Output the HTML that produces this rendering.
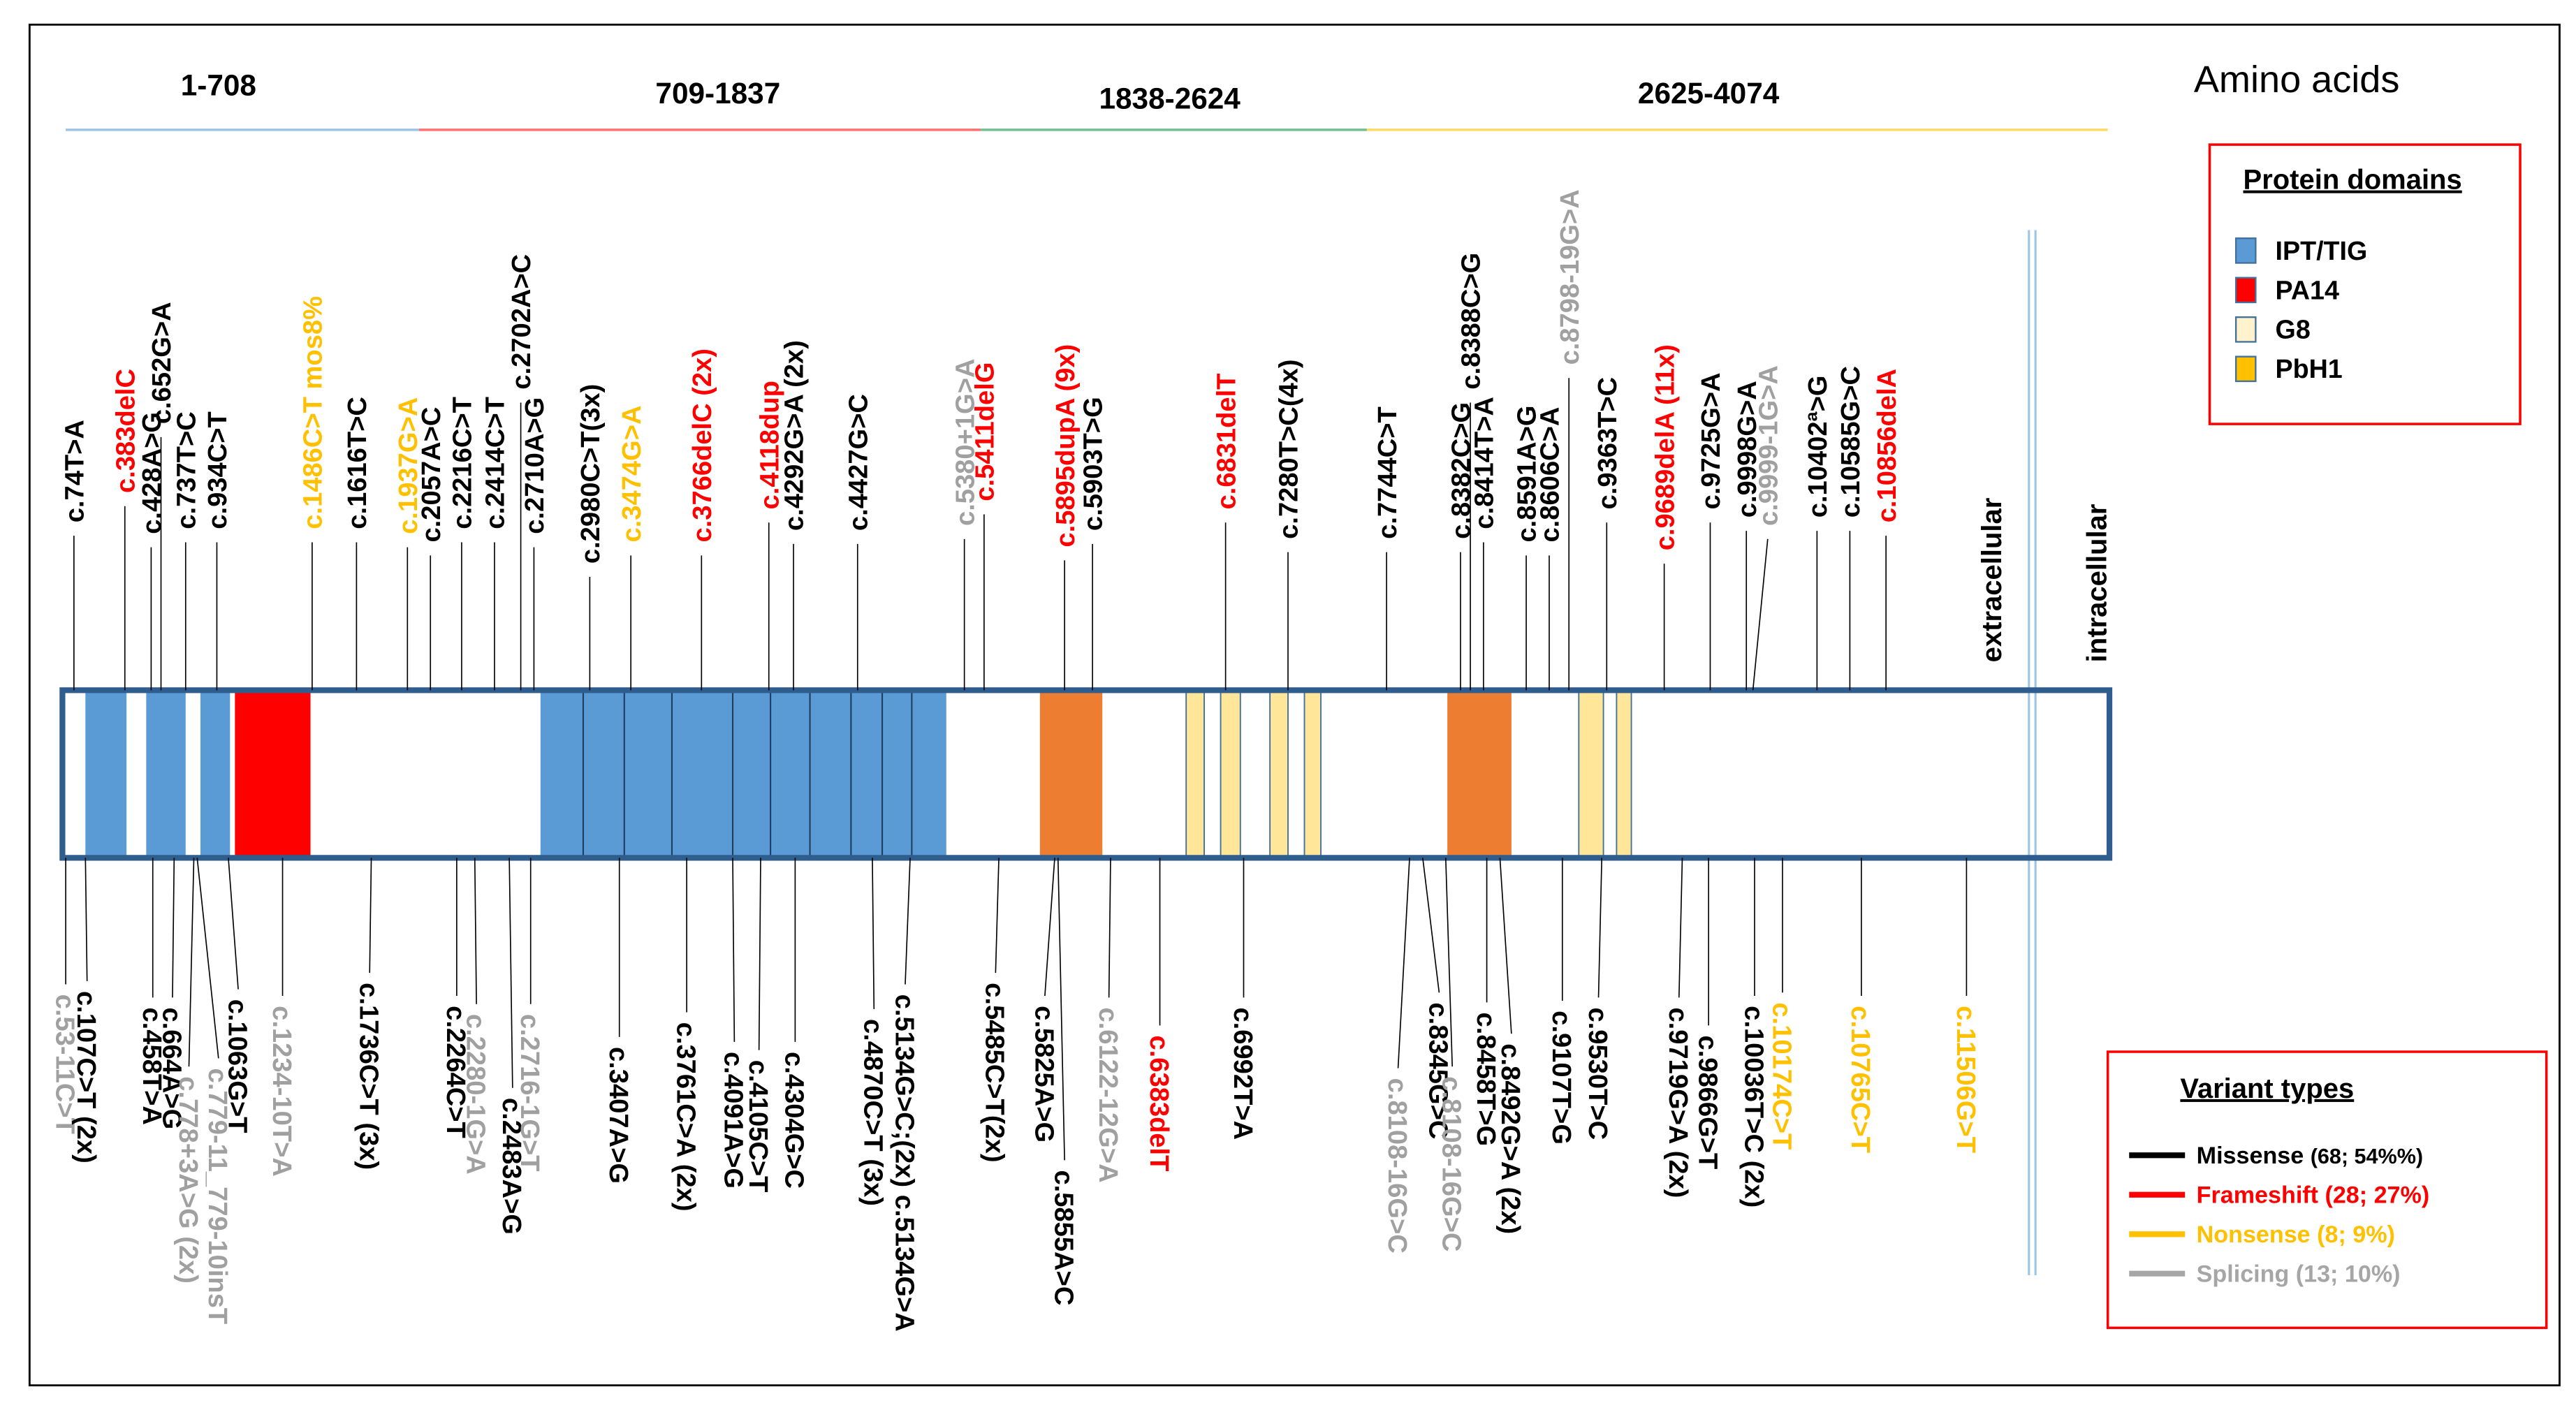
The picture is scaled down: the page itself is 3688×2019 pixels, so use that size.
<!DOCTYPE html>
<html><head><meta charset="utf-8"><style>
html,body{margin:0;padding:0;background:#fff}
svg{display:block}
text{font-family:"Liberation Sans",sans-serif}
</style></head><body>
<svg id="fig" width="3688" height="2019" viewBox="0 0 1568 858" preserveAspectRatio="none" xmlns="http://www.w3.org/2000/svg">
<rect x="0" y="0" width="1568" height="858" fill="#fff"/>
<rect x="18" y="15" width="1540" height="828" fill="none" stroke="#000" stroke-width="1.2"/>
<g font-weight="bold" font-size="18" text-anchor="middle">
<text x="133" y="58">1-708</text>
<text x="437" y="63">709-1837</text>
<text x="712" y="66">1838-2624</text>
<text x="1040" y="63">2625-4074</text>
<line x1="40" y1="79" x2="255" y2="79" stroke="#9dc3e6" stroke-width="1.5"/>
<line x1="255" y1="79" x2="597" y2="79" stroke="#ff7070" stroke-width="1.5"/>
<line x1="597" y1="79" x2="832" y2="79" stroke="#70c090" stroke-width="1.5"/>
<line x1="832" y1="79" x2="1283" y2="79" stroke="#ffd966" stroke-width="1.5"/>
</g>
<text x="1398" y="56" font-size="23" text-anchor="middle">Amino acids</text>
<g>
<rect x="1345" y="88" width="189" height="170" fill="none" stroke="#ff0000" stroke-width="1.5"/>
<text x="1432" y="115" font-size="17" font-weight="bold" text-anchor="middle" text-decoration="underline">Protein domains</text>
<rect x="1361" y="145" width="12" height="15" fill="#5b9bd5" stroke="#41719c"/><text x="1385" y="158" font-size="16" font-weight="bold">IPT/TIG</text>
<rect x="1361" y="169" width="12" height="15" fill="#ff0000" stroke="#41719c"/><text x="1385" y="182" font-size="16" font-weight="bold">PA14</text>
<rect x="1361" y="193" width="12" height="15" fill="#fff2cc" stroke="#41719c"/><text x="1385" y="206" font-size="16" font-weight="bold">G8</text>
<rect x="1361" y="217" width="12" height="15" fill="#ffc000" stroke="#41719c"/><text x="1385" y="230" font-size="16" font-weight="bold">PbH1</text>
</g>
<g>
<rect x="1283" y="640" width="267" height="168" fill="none" stroke="#ff0000" stroke-width="1.5"/>
<text x="1380" y="668" font-size="17" font-weight="bold" text-anchor="middle" text-decoration="underline">Variant types</text>
<line x1="1296" y1="703" x2="1330" y2="703" stroke="#000" stroke-width="3.5"/><text x="1337" y="708" font-size="14.5" font-weight="bold">Missense <tspan font-size="13">(68; 54%%)</tspan></text>
<line x1="1296" y1="727" x2="1330" y2="727" stroke="#ff0000" stroke-width="3.5"/><text x="1337" y="732" font-size="14.5" font-weight="bold" fill="#ff0000">Frameshift (28; 27%)</text>
<line x1="1296" y1="751" x2="1330" y2="751" stroke="#ffc000" stroke-width="3.5"/><text x="1337" y="756" font-size="14.5" font-weight="bold" fill="#ffc000">Nonsense (8; 9%)</text>
<line x1="1296" y1="775" x2="1330" y2="775" stroke="#a6a6a6" stroke-width="3.5"/><text x="1337" y="780" font-size="14.5" font-weight="bold" fill="#a6a6a6">Splicing (13; 10%)</text>
</g>
<line x1="1235" y1="140" x2="1235" y2="776" stroke="#9dc3e6" stroke-width="1.3"/>
<line x1="1239" y1="140" x2="1239" y2="776" stroke="#9dc3e6" stroke-width="1.3"/>
<text transform="translate(1218,403) rotate(-90)" font-size="17" font-weight="bold">extracellular</text>
<text transform="translate(1282,403) rotate(-90)" font-size="17" font-weight="bold">intracellular</text>
<g id="bar"></g>
<g id="topLabels"></g>
<g id="botLabels"></g>
</svg>
<script>
const COL = {k:"#000000", r:"#ff0000", y:"#ffc000", g:"#a0a0a0"};
// domains: start, end, type
const domStart = [52,89,122,143,329,633,722,743,773,794,881,961,984];
const domEnd   = [77,113,140,189,576,671,733,755,784,804,920,976,993];
const domType  = ["b","b","b","r","b","o","l","l","l","l","o","l","l"];
const dividers = [355,380,409,446,469,493,518,537,555];
// top labels
const topX    = [45,76,92,98,113,132,190,217,248,262,281,301,317,325,359,384,427,468,483,522,587,599,648,665,746,784,844,889,895,903,929,943,955,978,1013,1041,1063,1076,1106,1126,1148];
const topTextBottom = [318,300,325,258,322,322,322,322,325,330,322,322,237,325,343,330,330,310,323,323,320,305,333,323,310,328,328,328,237,322,330,330,222,310,335,310,315,320,315,315,318];
const topColor = ["k","r","k","k","k","k","y","k","y","k","k","k","k","k","k","y","r","r","k","k","g","r","r","k","r","k","k","k","k","k","k","k","g","k","r","k","k","g","k","k","r"];
const topText = ["c.74T>A","c.383delC","c.428A>G","c.652G>A","c.737T>C","c.934C>T","c.1486C>T mos8%","c.1616T>C","c.1937G>A","c.2057A>C","c.2216C>T","c.2414C>T","c.2702A>C","c.2710A>G","c.2980C>T(3x)","c.3474G>A","c.3766delC (2x)","c.4118dup","c.4292G>A (2x)","c.4427G>C","c.5380+1G>A","c.5411delG","c.5895dupA (9x)","c.5903T>G","c.6831delT","c.7280T>C(4x)","c.7744C>T","c.8382C>G","c.8388C>G","c.8414T>A","c.8591A>G","c.8606C>A","c.8798-19G>A","c.9363T>C","c.9689delA (11x)","c.9725G>A","c.9998G>A","c.9999-1G>A","c.10402ª>G","c.10585G>C","c.10856delA"];
// bottom labels
const botLineX = [40,52,93,106,118,120,139,172,226,278,289,310,323,377,418,446,463,484,531,554,608,642,644,676,706,757,858,866,880,905,913,951,975,1024,1040,1068,1085,1133,1197];
const botX     = [40,53,93,105,115,133,145,172,225,278,290,312,323,377,418,447,462,484,532,551,606,636,648,675,706,757,851,876,884,905,920,951,973,1022,1040,1068,1085,1133,1197];
const botTop   = [605,603,613,613,655,650,608,612,598,612,617,668,617,637,622,640,645,640,620,605,598,612,712,613,630,613,656,610,655,616,635,615,613,613,630,612,610,612,612];
const botColor = ["g","k","k","k","g","g","k","g","k","k","g","k","g","k","k","k","k","k","k","k","k","k","k","g","r","k","g","k","g","k","k","k","k","k","k","k","y","y","y"];
const botText = ["c.53-11C>T","c.107C>T (2x)","c.458T>A","c.664A>G","c.778+3A>G (2x)","c.779-11_779-10insT","c.1063G>T","c.1234-10T>A","c.1736C>T (3x)","c.2264C>T","c.2280-1G>A","c.2483A>G","c.2716-1G>T","c.3407A>G","c.3761C>A (2x)","c.4091A>G","c.4105C>T","c.4304G>C","c.4870C>T (3x)","c.5134G>C;(2x) c.5134G>A","c.5485C>T(2x)","c.5825A>G","c.5855A>C","c.6122-12G>A","c.6383delT","c.6992T>A","c.8108-16G>C","c.8345G>C","c.8108-16G>C","c.8458T>G","c.8492G>A (2x)","c.9107T>G","c.9530T>C","c.9719G>A (2x)","c.9866G>T","c.10036T>C (2x)","c.10174C>T","c.10765C>T","c.11506G>T"];

const NS = "http://www.w3.org/2000/svg";
function mk(tag, attrs, parent){ const e=document.createElementNS(NS,tag); for(const k in attrs) e.setAttribute(k,attrs[k]); parent.appendChild(e); return e; }
const BAR_TOP=420, BAR_BOT=522, FS=16.2;
const barG=document.getElementById('bar');
const fills={b:"#5b9bd5",r:"#ff0000",o:"#ed7d31",l:"#ffe699"};
for(let i=0;i<domStart.length;i++){
  const r=mk('rect',{x:domStart[i],y:BAR_TOP,width:domEnd[i]-domStart[i],height:BAR_BOT-BAR_TOP,fill:fills[domType[i]],stroke:domType[i]==="l"?"#41719c":"none","stroke-width":0.8},barG);
  
  
}
dividers.forEach((d)=>{
  const l=mk('line',{x1:d,y1:BAR_TOP,x2:d,y2:BAR_BOT,stroke:"#1f3f60","stroke-width":0.9},barG);
  
  
});
const outline=mk('rect',{x:38,y:BAR_TOP,width:1246,height:BAR_BOT-BAR_TOP,fill:"none",stroke:"#2e5d8e","stroke-width":3.5},barG);



const topG=document.getElementById('topLabels');
for(let i=0;i<topText.length;i++){
  const x=topX[i], tb=topTextBottom[i];
  let x1=x;
  if(topText[i]==="c.9999-1G>A") x1=1067;
  const l=mk('line',{x1:x1,y1:BAR_TOP,x2:x,y2:tb+8,stroke:"#000","stroke-width":0.7},topG);
  
  
  const t=mk('text',{transform:`translate(${x+5.8},${tb}) rotate(-90)`,"font-size":FS,"font-weight":"bold",fill:COL[topColor[i]],"text-anchor":"start"},topG);
  t.textContent=topText[i];
  
  
}
const botG=document.getElementById('botLabels');
for(let i=0;i<botText.length;i++){
  const l=mk('line',{x1:botLineX[i],y1:BAR_BOT,x2:botX[i],y2:botTop[i]-6,stroke:"#000","stroke-width":0.7},botG);
  
  
  const t=mk('text',{transform:`translate(${botX[i]-5.8},${botTop[i]}) rotate(90)`,"font-size":FS,"font-weight":"bold",fill:COL[botColor[i]]},botG);
  t.textContent=botText[i];
  
  
}
</script>
</body></html>
